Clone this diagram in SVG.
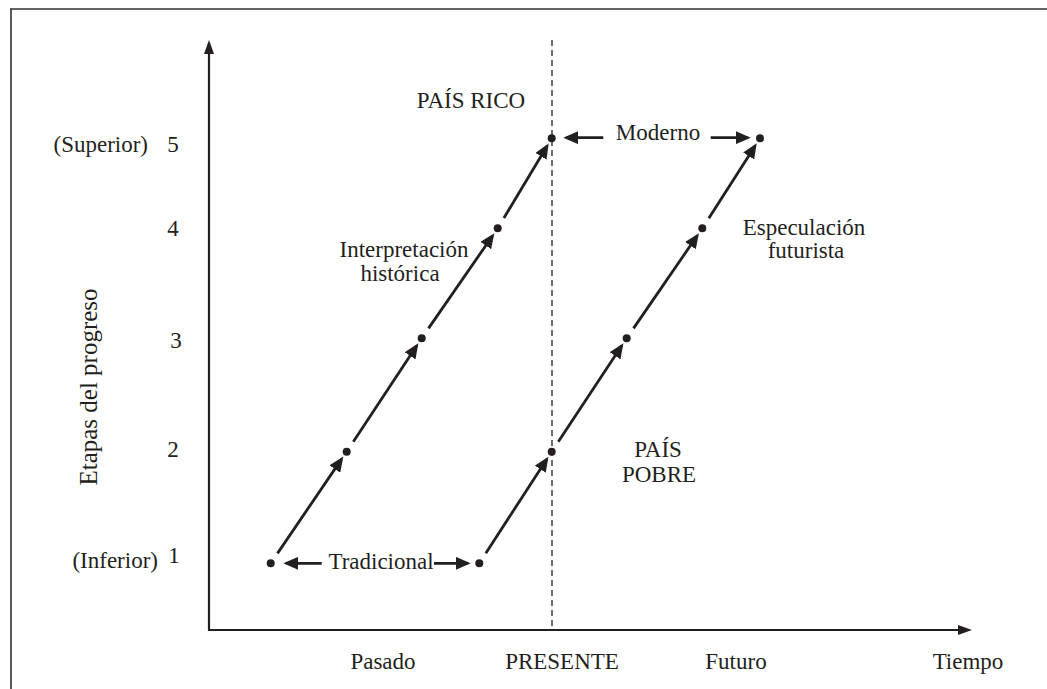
<svg xmlns="http://www.w3.org/2000/svg" width="1047" height="689" viewBox="0 0 1047 689">
<style>
text{font-family:"Liberation Serif","Times New Roman",serif;font-size:23px;fill:#231f20}
.mid{text-anchor:middle}
.end{text-anchor:end}
.seg{stroke:#231f20;stroke-width:2.8;fill:none;marker-end:url(#ah)}
.axis{stroke:#231f20;stroke-width:2.2;fill:none;marker-end:url(#axh)}
.dot{fill:#231f20}
</style>
<defs>
<marker id="ah" markerUnits="userSpaceOnUse" markerWidth="16" markerHeight="13" refX="12" refY="6.5" orient="auto"><path d="M0,0 L15,6.5 L0,13 z" fill="#231f20"/></marker>
<marker id="axh" markerUnits="userSpaceOnUse" markerWidth="15" markerHeight="10" refX="11" refY="5" orient="auto"><path d="M0,0 L14,5 L0,10 z" fill="#231f20"/></marker>
</defs>
<g id="frame" stroke="#333" stroke-width="1.6" fill="none">
<path d="M10,9 H1047 M11,9 V689"/>
</g>
<g id="axes">
<line class="axis" x1="209" y1="631" x2="209" y2="43"/>
<line class="axis" x1="208" y1="630" x2="969" y2="630"/>
<line x1="552" y1="40" x2="552" y2="630" stroke="#231f20" stroke-width="1.3" stroke-dasharray="6,4"/>
</g>
<g id="connectors">
<line class="seg" x1="277.5" y1="553.4" x2="341.6" y2="459.1"/>
<line class="seg" x1="353.3" y1="441.7" x2="416.7" y2="345.8"/>
<line class="seg" x1="428.5" y1="328.4" x2="492.6" y2="235.7"/>
<line class="seg" x1="503.9" y1="218.0" x2="547.1" y2="146.0"/>
<line class="seg" x1="485.8" y1="553.2" x2="546.8" y2="459.2"/>
<line class="seg" x1="558.3" y1="441.7" x2="621.7" y2="345.8"/>
<line class="seg" x1="633.5" y1="328.4" x2="697.2" y2="235.7"/>
<line class="seg" x1="708.8" y1="218.2" x2="755.1" y2="145.9"/>
<line class="seg" x1="321.7" y1="563.3" x2="286.3" y2="563.3"/>
<line class="seg" x1="434" y1="563.3" x2="467.7" y2="563.3"/>
<line class="seg" x1="603.3" y1="137.7" x2="566.3" y2="137.7"/>
<line class="seg" x1="710.7" y1="137.7" x2="747.7" y2="137.7"/>
</g>
<g id="points">
<circle class="dot" cx="270.7" cy="563.3" r="4"/>
<circle class="dot" cx="346.7" cy="451.7" r="4"/>
<circle class="dot" cx="421.7" cy="338.3" r="4"/>
<circle class="dot" cx="497.7" cy="228.3" r="4"/>
<circle class="dot" cx="551.7" cy="138.3" r="4"/>
<circle class="dot" cx="479.3" cy="563.3" r="4"/>
<circle class="dot" cx="551.7" cy="451.7" r="4"/>
<circle class="dot" cx="626.7" cy="338.3" r="4"/>
<circle class="dot" cx="702.3" cy="228.3" r="4"/>
<circle class="dot" cx="760" cy="138.3" r="4"/>
</g>
<g id="labels">
<text x="471" y="108" class="mid">PAÍS RICO</text>
<text x="658" y="140" class="mid">Moderno</text>
<text x="381" y="569" class="mid">Tradicional</text>
<text x="404" y="257" class="mid">Interpretación</text>
<text x="400" y="281" class="mid">histórica</text>
<text x="804" y="235" class="mid">Especulación</text>
<text x="806" y="258" class="mid">futurista</text>
<text x="658" y="457" class="mid">PAÍS</text>
<text x="659" y="482" class="mid">POBRE</text>
</g>
<g id="yaxis-labels">
<text x="148" y="152" class="end">(Superior)</text>
<text x="173" y="152" class="mid">5</text>
<text x="173" y="236" class="mid">4</text>
<text x="176" y="348" class="mid">3</text>
<text x="173" y="457" class="mid">2</text>
<text x="158" y="568" class="end">(Inferior)</text>
<text x="174" y="563" class="mid">1</text>
<text transform="translate(97,387) rotate(-90)" class="mid" style="font-size:25px">Etapas del progreso</text>
</g>
<g id="xaxis-labels">
<text x="383" y="669" class="mid">Pasado</text>
<text x="562" y="669" class="mid">PRESENTE</text>
<text x="736" y="669" class="mid">Futuro</text>
<text x="968" y="669" class="mid">Tiempo</text>
</g>
</svg>
